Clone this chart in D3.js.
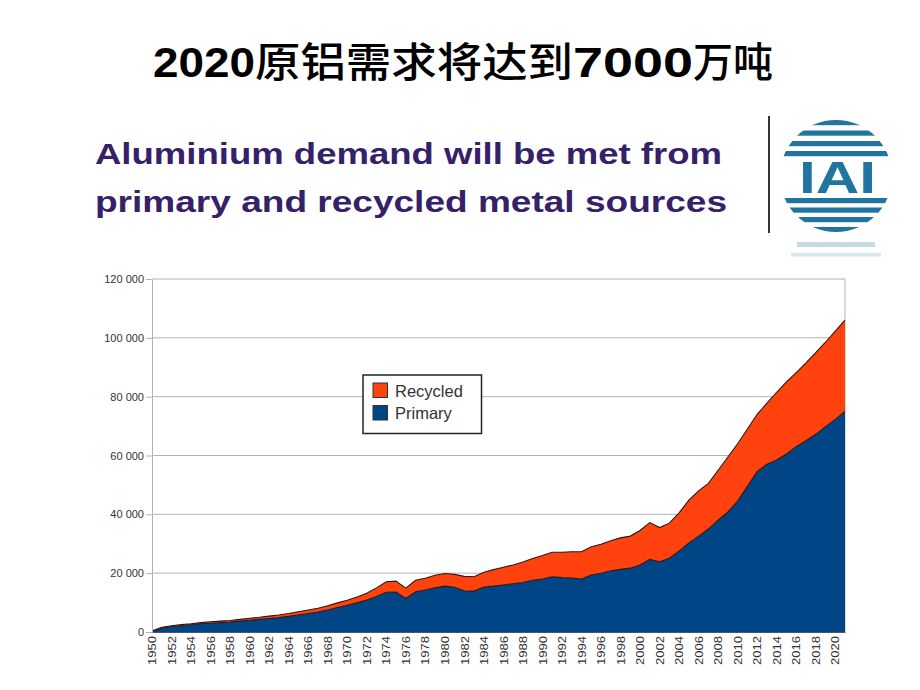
<!DOCTYPE html>
<html>
<head>
<meta charset="utf-8">
<script src="https://cdn.jsdelivr.net/npm/d3@7"></script>
<style>
  html, body { margin: 0; padding: 0; background: #ffffff; }
  svg { display: block; }
</style>
</head>
<body>
<svg id="chart" width="920" height="690"></svg>
<script>
// ---------------- DATA ----------------
const years = [1950,1951,1952,1953,1954,1955,1956,1957,1958,1959,
  1960,1961,1962,1963,1964,1965,1966,1967,1968,1969,
  1970,1971,1972,1973,1974,1975,1976,1977,1978,1979,
  1980,1981,1982,1983,1984,1985,1986,1987,1988,1989,
  1990,1991,1992,1993,1994,1995,1996,1997,1998,1999,
  2000,2001,2002,2003,2004,2005,2006,2007,2008,2009,
  2010,2011,2012,2013,2014,2015,2016,2017,2018,2019,
  2020,2021];
const primary = [250,1300,1800,2150,2450,2800,3000,3200,3350,3700,
  4000,4300,4600,4900,5300,5800,6300,6800,7500,8300,
  9100,9900,10900,12100,13500,13600,11400,13700,14300,15000,
  15600,15200,14000,13900,15300,15600,16000,16400,16800,17600,
  18000,18800,18500,18300,18000,19400,20000,20800,21300,21700,
  22800,24700,23900,25100,27500,30300,32600,35000,38000,40800,
  44500,49500,54500,57000,58500,60500,63000,65000,67200,69800,
  72300,75000];
const recycled = [50,300,300,350,350,400,500,500,550,600,
  700,700,800,900,1000,1100,1200,1300,1400,1600,
  1700,2000,2300,2900,3600,3700,3500,3900,4000,4300,
  4300,4400,4900,4900,5000,5600,6000,6400,7000,7400,
  8000,8300,8600,9000,9300,9600,9800,10200,10700,10900,
  11700,12500,11600,11900,13000,14500,15400,15500,17000,18700,
  19500,19500,19500,20800,23000,24500,25200,26500,27800,28700,
  30000,31000];
const yTicks = [0, 20000, 40000, 60000, 80000, 100000, 120000];
const seriesNames = ["Primary", "Recycled"];
const seriesColors = ["#004586", "#ff420e"];
const titleParts = ["2020", "原铝需求将达到", "7000", "万吨"];
const subtitleLines = ["Aluminium demand will be met from", "primary and recycled metal sources"];
const logoText = "IAI";

// ---------------- SETUP ----------------
const svg = d3.select("#chart");
const plot = { left: 152, right: 845, top: 279, bottom: 632 };

const x = d3.scaleLinear().domain([years[0], years[years.length - 1]]).range([plot.left, plot.right]);
const y = d3.scaleLinear().domain([0, 120000]).range([plot.bottom, plot.top]);

const loc = d3.formatLocale({ decimal: ".", thousands: " ", grouping: [3], currency: ["", ""] });
const fmt = loc.format(",");

// ---------------- TITLE ----------------
const titleX = [153, 255, 573, 693];
const titleW = [102, 318, 120, 80];
titleParts.forEach((t, i) => {
  const isNum = i % 2 === 0;
  svg.append("text")
    .attr("x", titleX[i]).attr("y", 77)
    .attr("font-family", isNum ? "'Liberation Sans', Arial, sans-serif" : "'Noto Sans CJK SC', sans-serif")
    .attr("font-weight", isNum ? "bold" : 500)
    .attr("font-size", isNum ? 42 : 41)
    .attr("fill", "#000")
    .attr("textLength", titleW[i])
    .attr("lengthAdjust", "spacingAndGlyphs")
    .text(t);
});

// subtitle
const subBase = [164, 212];
const subLen = [627, 632];
subtitleLines.forEach((t, i) => {
  svg.append("text")
    .attr("x", 95).attr("y", subBase[i])
    .attr("font-family", "'Liberation Sans', Arial, sans-serif")
    .attr("font-weight", "bold")
    .attr("font-size", 29)
    .attr("fill", "#35206a")
    .attr("textLength", subLen[i])
    .attr("lengthAdjust", "spacingAndGlyphs")
    .text(t);
});

// separator line
svg.append("line")
  .attr("x1", 769).attr("x2", 769).attr("y1", 116).attr("y2", 233)
  .attr("stroke", "#333").attr("stroke-width", 2);

// ---------------- LOGO ----------------
const logo = svg.append("g");
const cx = 836, cy = 176, r = 56;
const defs = svg.append("defs");
defs.append("clipPath").attr("id", "logoClip")
  .append("circle").attr("cx", cx).attr("cy", cy).attr("r", r);
const stripeYs = [120, 130.5, 141, 151, 198, 207.5, 217, 227];
const logoG = logo.append("g").attr("clip-path", "url(#logoClip)");
stripeYs.forEach(sy => {
  logoG.append("rect").attr("x", cx - r).attr("y", sy).attr("width", 2 * r).attr("height", 5.2)
    .attr("fill", "#1f74a0");
});
logo.append("text")
  .attr("x", 799).attr("y", 193)
  .attr("font-family", "'Liberation Sans', Arial, sans-serif")
  .attr("font-weight", "bold")
  .attr("font-size", 45)
  .attr("fill", "#1f74a0")
  .attr("textLength", 77)
  .attr("lengthAdjust", "spacingAndGlyphs")
  .text(logoText);
// reflection
logo.append("rect").attr("x", 797).attr("y", 242).attr("width", 78).attr("height", 5).attr("fill", "#c5dbe6");
logo.append("rect").attr("x", 791).attr("y", 253).attr("width", 90).attr("height", 3.5).attr("fill", "#d8e6ee");

// ---------------- CHART ----------------
const g = svg.append("g");

// gridlines
g.selectAll("line.grid").data(yTicks).enter().append("line")
  .attr("class", "grid")
  .attr("x1", plot.left).attr("x2", plot.right)
  .attr("y1", d => y(d)).attr("y2", d => y(d))
  .attr("stroke", "#b3b3b3").attr("stroke-width", 1);

// right border
g.append("line").attr("x1", plot.right).attr("x2", plot.right)
  .attr("y1", plot.top).attr("y2", plot.bottom)
  .attr("stroke", "#b3b3b3").attr("stroke-width", 1);

// stacked data
const rows = years.map((yr, i) => ({ year: yr, primary: primary[i], recycled: recycled[i] }));
const stack = d3.stack().keys(["primary", "recycled"]);
const stacked = stack(rows);

const area = d3.area()
  .x(d => x(d.data.year))
  .y0(d => y(d[0]))
  .y1(d => y(d[1]));
const topLine = d3.line()
  .x(d => x(d.data.year))
  .y(d => y(d[1]));

g.selectAll("path.area").data(stacked).enter().append("path")
  .attr("class", "area")
  .attr("d", area)
  .attr("fill", (d, i) => seriesColors[i]);

g.selectAll("path.edge").data(stacked).enter().append("path")
  .attr("class", "edge")
  .attr("d", topLine)
  .attr("fill", "none")
  .attr("stroke", "#2a1a14")
  .attr("stroke-width", 1.1);

// y axis
const yAxis = d3.axisLeft(y).tickValues(yTicks).tickSize(6).tickPadding(2).tickFormat(fmt);
const yg = g.append("g").attr("transform", `translate(${plot.left},0)`).call(yAxis);
yg.select(".domain").attr("stroke", "#b3b3b3");
yg.selectAll(".tick line").attr("stroke", "#b3b3b3");
yg.selectAll(".tick text")
  .attr("font-family", "'Liberation Sans', Arial, sans-serif")
  .attr("font-size", 11)
  .attr("fill", "#333");

// x axis
const labelYears = years.filter(yr => yr % 2 === 0);
const xAxis = d3.axisBottom(x).tickValues(labelYears).tickSize(0).tickFormat(d3.format("d"));
const xg = g.append("g").attr("transform", `translate(0,${plot.bottom})`).call(xAxis);
xg.select(".domain").attr("stroke", "#555");
xg.selectAll(".tick text")
  .attr("font-family", "'Liberation Sans', Arial, sans-serif")
  .attr("font-size", 10.5)
  .attr("fill", "#333")
  .attr("text-anchor", "end")
  .attr("transform", "rotate(-90)")
  .attr("x", -4)
  .attr("y", 0)
  .attr("dy", "0.35em")
  .attr("textLength", 29)
  .attr("lengthAdjust", "spacingAndGlyphs");

// ---------------- LEGEND ----------------
const lg = svg.append("g");
lg.append("rect").attr("x", 363).attr("y", 375).attr("width", 118.5).attr("height", 58.5)
  .attr("fill", "#fff").attr("stroke", "#222").attr("stroke-width", 1.5);
const legendOrder = [1, 0];
legendOrder.forEach((si, k) => {
  const ly = 383 + k * 22.5;
  lg.append("rect").attr("x", 373).attr("y", ly).attr("width", 14.5).attr("height", 14.5)
    .attr("fill", seriesColors[si]).attr("stroke", "#333").attr("stroke-width", 1);
  lg.append("text").attr("x", 395).attr("y", ly + 13.5)
    .attr("font-family", "'Liberation Sans', Arial, sans-serif")
    .attr("font-size", 16.5)
    .attr("fill", "#333")
    .text(seriesNames[si]);
});
</script>
</body>
</html>
